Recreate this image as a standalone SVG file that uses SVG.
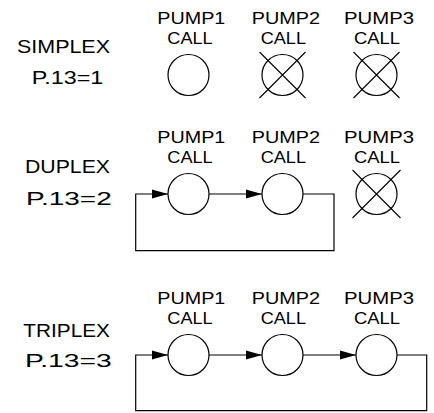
<svg xmlns="http://www.w3.org/2000/svg" width="434" height="413" viewBox="0 0 434 413">
<style>
text { font-family: "Liberation Sans", Arial, sans-serif; font-size: 19px; fill: #000; }
text.p { font-size: 17px; }
.c { fill: none; stroke: #000; stroke-width: 1.2; }
.x { stroke: #000; stroke-width: 1.1; }
.w { fill: none; stroke: #000; stroke-width: 1.2; }
</style>
<defs>
<marker id="arr" markerUnits="userSpaceOnUse" markerWidth="16" markerHeight="10" refX="16" refY="5" orient="auto">
<path d="M0,0.5 L16,5 L0,9.5 Z" fill="#000"/>
</marker>
</defs>
<g id="simplex">
<text x="17" y="53.3" textLength="93" lengthAdjust="spacingAndGlyphs">SIMPLEX</text>
<text x="31.7" y="84.3" textLength="71.6" lengthAdjust="spacingAndGlyphs">P.13=1</text>
<g id="s-p1"><text class="p" x="157.3" y="24" textLength="68" lengthAdjust="spacingAndGlyphs">PUMP1</text><text class="p" x="167.3" y="44" textLength="45.4" lengthAdjust="spacingAndGlyphs">CALL</text><circle class="c" cx="188.5" cy="75" r="20.5"/></g>
<g id="s-p2"><text class="p" x="251.7" y="24" textLength="68.3" lengthAdjust="spacingAndGlyphs">PUMP2</text><text class="p" x="260.7" y="44" textLength="45.3" lengthAdjust="spacingAndGlyphs">CALL</text><circle class="c" cx="282.5" cy="75" r="20.5"/><path class="x" d="M259.5,52 L305.5,98 M305.5,52 L259.5,98"/></g>
<g id="s-p3"><text class="p" x="344" y="24" textLength="70" lengthAdjust="spacingAndGlyphs">PUMP3</text><text class="p" x="354" y="44" textLength="46" lengthAdjust="spacingAndGlyphs">CALL</text><circle class="c" cx="376.5" cy="75" r="20.5"/><path class="x" d="M353.5,52 L399.5,98 M399.5,52 L353.5,98"/></g>
</g>
<g id="duplex">
<text x="25" y="173.3" textLength="85" lengthAdjust="spacingAndGlyphs">DUPLEX</text>
<text x="26" y="205" textLength="85.7" lengthAdjust="spacingAndGlyphs">P.13=2</text>
<g id="d-p1"><text class="p" x="157.3" y="143" textLength="68" lengthAdjust="spacingAndGlyphs">PUMP1</text><text class="p" x="167.3" y="163" textLength="45.4" lengthAdjust="spacingAndGlyphs">CALL</text><circle class="c" cx="188.5" cy="194" r="20.5"/></g>
<g id="d-p2"><text class="p" x="251.7" y="143" textLength="68.3" lengthAdjust="spacingAndGlyphs">PUMP2</text><text class="p" x="260.7" y="163" textLength="45.3" lengthAdjust="spacingAndGlyphs">CALL</text><circle class="c" cx="282.5" cy="194" r="20.5"/></g>
<g id="d-p3"><text class="p" x="344" y="143" textLength="70" lengthAdjust="spacingAndGlyphs">PUMP3</text><text class="p" x="354" y="163" textLength="46" lengthAdjust="spacingAndGlyphs">CALL</text><circle class="c" cx="376.5" cy="194" r="20.5"/><path class="x" d="M352.5,170 L400.5,218 M400.5,170 L352.5,218"/></g>
</g>
<g id="triplex">
<text x="23.3" y="336.7" textLength="86.7" lengthAdjust="spacingAndGlyphs">TRIPLEX</text>
<text x="25" y="366.7" textLength="86.7" lengthAdjust="spacingAndGlyphs">P.13=3</text>
<g id="t-p1"><text class="p" x="157.3" y="304" textLength="68" lengthAdjust="spacingAndGlyphs">PUMP1</text><text class="p" x="167.3" y="324" textLength="45.4" lengthAdjust="spacingAndGlyphs">CALL</text><circle class="c" cx="188.5" cy="355" r="20.5"/></g>
<g id="t-p2"><text class="p" x="251.7" y="304" textLength="68.3" lengthAdjust="spacingAndGlyphs">PUMP2</text><text class="p" x="260.7" y="324" textLength="45.3" lengthAdjust="spacingAndGlyphs">CALL</text><circle class="c" cx="282.5" cy="355" r="20.5"/></g>
<g id="t-p3"><text class="p" x="344" y="304" textLength="70" lengthAdjust="spacingAndGlyphs">PUMP3</text><text class="p" x="354" y="324" textLength="46" lengthAdjust="spacingAndGlyphs">CALL</text><circle class="c" cx="376.5" cy="355" r="20.5"/></g>
</g>
<g id="connectors">
<path class="w" d="M209,194 L262,194" marker-end="url(#arr)"/>
<path class="w" d="M303,194 L334,194 L334,250.7 L135.7,250.7 L135.7,194 L168,194" marker-end="url(#arr)"/>
<path class="w" d="M209,355 L262,355" marker-end="url(#arr)"/>
<path class="w" d="M303,355 L356,355" marker-end="url(#arr)"/>
<path class="w" d="M397,355 L426.7,355 L426.7,410.7 L135.7,410.7 L135.7,355 L168,355" marker-end="url(#arr)"/>
</g>
</svg>
